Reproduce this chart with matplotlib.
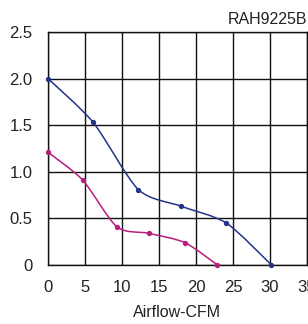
import numpy as np
import matplotlib.pyplot as plt
from matplotlib.path import Path
from matplotlib.patches import PathPatch

plt.rcParams['font.family'] = ['Liberation Sans', 'DejaVu Sans']

title = 'RAH9225B'
xlabel = 'Airflow-CFM'
xticks = [0, 5, 10, 15, 20, 25, 30, 35]
yticks = [0, 0.5, 1.0, 1.5, 2.0, 2.5]
yticklabels = ['0', '0.5', '1.0', '1.5', '2.0', '2.5']

blue_x = [0, 6.1, 12.2, 18.0, 24.1, 30.2]
blue_y = [2.0, 1.53, 0.81, 0.63, 0.45, 0.0]
pink_x = [0, 4.7, 9.3, 13.6, 18.5, 22.9]
pink_y = [1.21, 0.91, 0.41, 0.34, 0.24, 0.0]


def smooth_path(xs, ys, t=0.13):
    # catmull-rom style bezier through the points
    p = np.column_stack([xs, ys])
    verts = [p[0]]
    codes = [Path.MOVETO]
    for i in range(len(p) - 1):
        p0 = p[i - 1] if i > 0 else p[i]
        p3 = p[i + 2] if i + 2 < len(p) else p[i + 1]
        c1 = p[i] + (p[i + 1] - p0) * t
        c2 = p[i + 1] - (p3 - p[i]) * t
        verts += [c1, c2, p[i + 1]]
        codes += [Path.CURVE4] * 3
    return Path(verts, codes)


fig = plt.figure(figsize=(3.08, 3.24), dpi=100)
ax = fig.add_axes([48/308, 1 - 265/324, 259/308, 233/324])

for xs, ys, c in [(blue_x, blue_y, '#23338a'), (pink_x, pink_y, '#b81c7d')]:
    ax.add_patch(PathPatch(smooth_path(xs, ys), fc='none', ec=c, lw=1.1, clip_on=False, zorder=3))
    ax.plot(xs, ys, ls='none', color=c, marker='o', ms=2.8, clip_on=False, zorder=4)

ax.set_xlim(0, 35)
ax.set_ylim(0, 2.5)
ax.set_xticks(xticks)
ax.set_yticks(yticks)
ax.set_yticklabels(yticklabels)
ax.grid(True, color='#111111', lw=1)
ax.set_axisbelow(True)
for s in ax.spines.values():
    s.set_color('#111111')
    s.set_linewidth(1)
ax.tick_params(length=0, labelsize=12, pad=11, colors='#222222')
ax.tick_params(axis='x', pad=11)
ax.set_xlabel(xlabel, fontsize=11.5, labelpad=7, color='#222222')
ax.text(1.0, 1.02, title, transform=ax.transAxes, ha='right', va='bottom', fontsize=11.5, color='#222222')

fig.savefig('out.png', dpi=100)
